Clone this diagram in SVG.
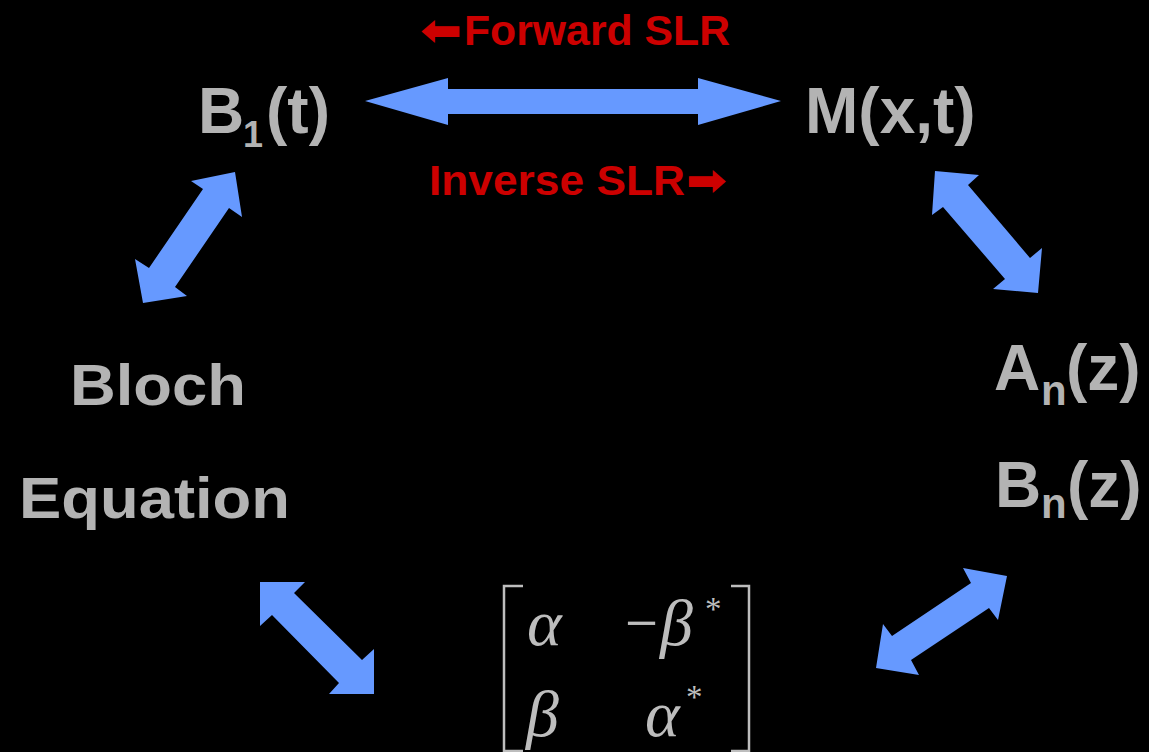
<svg xmlns="http://www.w3.org/2000/svg" width="1149" height="752" viewBox="0 0 1149 752">
  <style>
    .node { font-family: "Liberation Sans", Arial, sans-serif; font-weight: bold; fill: #B3B3B3; }
    .lbl { font-family: "Liberation Sans", Arial, sans-serif; font-weight: bold; fill: #CC0000; font-size: 43px; }
    .sym { font-family: "DejaVu Sans", sans-serif; }
    .math { font-family: "Liberation Serif", "Times New Roman", serif; font-style: italic; fill: #BDBDBD; font-size: 66px; }
    .up { font-style: normal; }
    .star { font-style: normal; font-size: 33px; }
    .arrow { fill: #6699FF; }
    .bracket { fill: none; stroke: #BDBDBD; stroke-width: 2.5; }
  </style>
  <rect width="1149" height="752" fill="#000000"/>

  <g id="connectors">
    <polygon class="arrow" points="365,101 448,78 448,89 698,89 698,78 781,101 698,125 698,114 448,114 448,125"/>
    <polygon class="arrow" points="235,172 242,217 229,208 175,287 187,296 143,303 135,259 149,268 203,189 191,181"/>
    <polygon class="arrow" points="935,171 979,175 968,185 1030,258 1042,248 1038,293 993,289 1005,279 943,207 932,215"/>
    <polygon class="arrow" points="260,582 305,582 294,593 362,660 374,649 374,694 329,694 339,683 272,615 260,626"/>
    <polygon class="arrow" points="1007,576 998,620 989,608 911,660 919,675 876,668 883,624 892,636 971,583 963,568"/>
  </g>

  <g id="label-forward">
    <text class="lbl" y="45"><tspan class="sym" x="420" textLength="42" lengthAdjust="spacingAndGlyphs">⬅</tspan><tspan x="464" textLength="266" lengthAdjust="spacingAndGlyphs">Forward SLR</tspan></text>
  </g>
  <g id="label-inverse">
    <text class="lbl" y="195"><tspan x="429" textLength="256" lengthAdjust="spacingAndGlyphs">Inverse SLR</tspan><tspan class="sym" x="686" textLength="41" lengthAdjust="spacingAndGlyphs">➡</tspan></text>
  </g>

  <g id="node-B1">
    <text class="node" font-size="64" y="133"><tspan x="198">B</tspan><tspan x="243" y="147" font-size="36">1</tspan><tspan x="266" y="133">(t)</tspan></text>
  </g>
  <g id="node-M">
    <text class="node" font-size="64" x="805" y="133">M(x,t)</text>
  </g>
  <g id="node-Bloch">
    <text class="node" font-size="57" x="70" y="405" textLength="176" lengthAdjust="spacingAndGlyphs">Bloch</text>
    <text class="node" font-size="57" x="19" y="518" textLength="271" lengthAdjust="spacingAndGlyphs">Equation</text>
  </g>
  <g id="node-AnBn">
    <text class="node" font-size="64" y="390"><tspan x="994">A</tspan><tspan x="1041" y="405" font-size="42">n</tspan><tspan x="1066" y="390">(z)</tspan></text>
    <text class="node" font-size="64" y="507"><tspan x="995">B</tspan><tspan x="1041" y="518" font-size="42">n</tspan><tspan x="1067" y="507">(z)</tspan></text>
  </g>
  <g id="node-matrix">
    <path class="bracket" d="M523,586 H504 V751 H523"/>
    <path class="bracket" d="M731,586 H749 V751 H731"/>
    <text class="math" x="527" y="645">α</text>
    <text class="math up" x="625" y="645" textLength="33" lengthAdjust="spacingAndGlyphs">−</text>
    <text class="math" x="660" y="645">β</text>
    <text class="math star" x="705" y="620">*</text>
    <text class="math" x="526" y="736">β</text>
    <text class="math" x="645" y="736">α</text>
    <text class="math star" x="686" y="708">*</text>
  </g>
</svg>
